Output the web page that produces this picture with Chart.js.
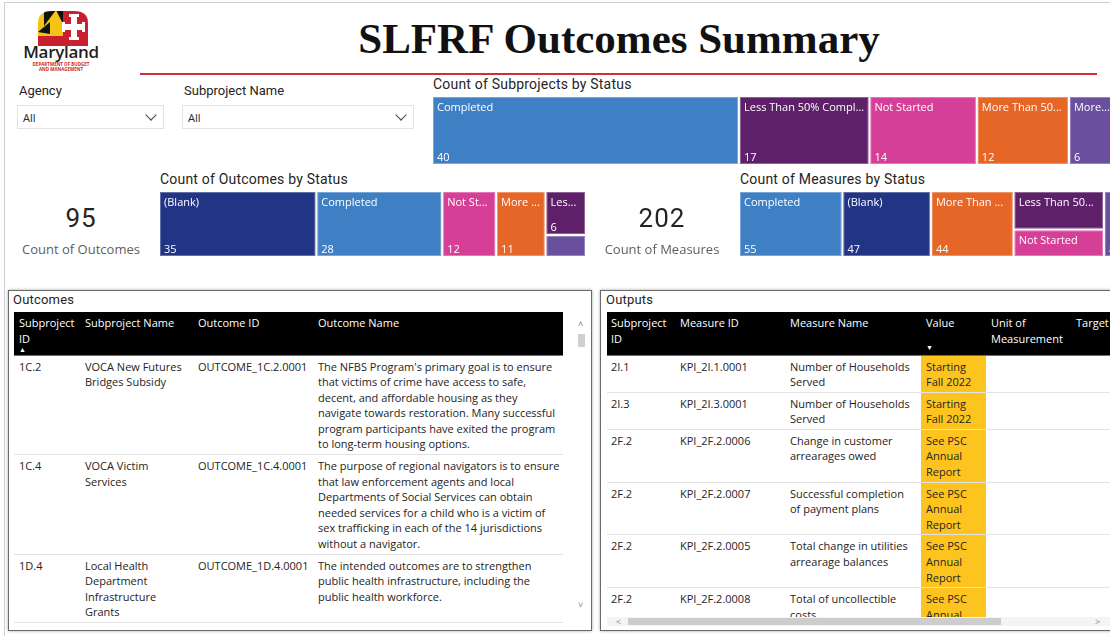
<!DOCTYPE html>
<html>
<head>
<meta charset="utf-8">
<script src="https://cdn.jsdelivr.net/npm/chart.js@4"></script>
<style>
  body { margin: 0; width: 1110px; height: 636px; overflow: hidden; background: #fff; position: relative;
         font-family: "Open Sans", sans-serif; color: #252423; }
  .abs { position: absolute; }
  .frame { left: 4px; top: 2px; width: 1200px; height: 700px; border-left: 1px solid #cfcfcf; border-top: 1px solid #cfcfcf; }
  .title { left: 0; width: 1238px; top: 14px; text-align: center; font: bold 43px "Liberation Serif", serif; color: #111; }
  .redline { left: 140px; top: 73px; width: 957px; height: 2px; background: #cf3038; }
  .lbl { font: 400 13px Roboto, sans-serif; color: #252423; }
  .dd { height: 24px; border: 1px solid #e3e3e3; box-sizing: border-box; font-size: 11px; line-height: 24px; padding-left: 5px; }
  .dd .chev { position: absolute; right: 8px; top: 5px; width: 7px; height: 7px; border-right: 1px solid #444; border-bottom: 1px solid #444; transform: rotate(45deg); }
  .ctitle { font: 400 14px Roboto, sans-serif; color: #252423; white-space: nowrap; letter-spacing: 0.2px; }
  .kpi { text-align: center; width: 160px; }
  .kpi .num { font: 400 26px Roboto, sans-serif; letter-spacing: 1px; color: #252423; }
  .kpi .cap { font-size: 13px; color: #605e5c; margin-top: 7px; }
  .panel { top: 290px; height: 341px; box-sizing: border-box; border: 1px solid #6a6a6a; box-shadow: 0 0 3px rgba(0,0,0,0.35); background: #fff; overflow: hidden; }
  .ptitle { font: 400 13px Roboto, sans-serif; color: #252423; top: 1px; letter-spacing: 0.2px; }
  .tw { top: 21px; overflow: hidden; }
  table { border-collapse: collapse; table-layout: fixed; font-size: 11px; }
  th { background: #000; color: #fff; font-weight: 400; text-align: left; vertical-align: top; height: 43px; box-sizing: border-box;
       padding: 3px 4px 0 5px; line-height: 15.6px; border-bottom: 1px solid #4b76ad; white-space: nowrap; overflow: hidden; }
  td { vertical-align: top; padding: 3px 4px 2px 5px; line-height: 15.6px; border-bottom: 1px solid #e3e3e3; white-space: nowrap; }
  td.val { background: #fdc41f; }
  .arrow { font-size: 7px; line-height: 8px; display: block; }
  .sb { color: #888; font-size: 9px; }
</style>
</head>
<body>
<div class="abs frame"></div>

<!-- logo -->
<svg class="abs" style="left:36px;top:10px" width="54" height="36" viewBox="0 0 54 36">
  <defs><clipPath id="arch"><path d="M2 36 L2 13 Q2 1 16 1 L38 1 Q52 1 52 13 L52 36 Z"/></clipPath></defs>
  <g clip-path="url(#arch)">
    <rect x="0" y="0" width="27" height="36" fill="#f5c216"/>
    <polygon points="8,0 20,0 8,16" fill="#111"/>
    <polygon points="20,0 27,0 27,14" fill="#111"/>
    <polygon points="2,22 14,12 14,24" fill="#111"/>
    <rect x="27" y="0" width="27" height="36" fill="#c8202f"/>
    <rect x="0" y="26" width="27" height="10" fill="#c8202f"/>
    <rect x="35" y="6" width="6" height="24" fill="#fff"/>
    <rect x="28" y="14" width="20" height="6" fill="#fff"/>
    <rect x="33" y="4" width="10" height="3" fill="#fff"/>
    <rect x="33" y="27" width="10" height="3" fill="#fff"/>
    <rect x="26" y="12" width="3" height="10" fill="#fff"/>
    <rect x="46" y="12" width="3" height="10" fill="#fff"/>
  </g>
</svg>
<div class="abs" style="left:20px;top:40px;width:82px;text-align:center;font:600 17px 'Open Sans',sans-serif;color:#231f20;letter-spacing:-0.3px">Maryland</div>
<div class="abs" style="left:20px;top:62px;width:82px;text-align:center;font:bold 4.5px 'Open Sans',sans-serif;color:#d2232a;line-height:5px">DEPARTMENT OF BUDGET<br>AND MANAGEMENT</div>

<div class="abs title">SLFRF Outcomes Summary</div>
<div class="abs redline"></div>

<!-- slicers -->
<div class="abs lbl" style="left:19px;top:83px">Agency</div>
<div class="abs dd" style="left:17px;top:105px;width:147px">All<span class="chev"></span></div>
<div class="abs lbl" style="left:184px;top:83px">Subproject Name</div>
<div class="abs dd" style="left:182px;top:105px;width:232px">All<span class="chev"></span></div>

<!-- treemaps -->
<div class="abs ctitle" style="left:433px;top:76px">Count of Subprojects by Status</div>
<canvas id="subprojectChart" class="abs" style="left:433px;top:97px" width="683" height="69"></canvas>

<div class="abs kpi" style="left:1px;top:203px"><div class="num">95</div><div class="cap">Count of Outcomes</div></div>
<div class="abs ctitle" style="left:160px;top:171px">Count of Outcomes by Status</div>
<canvas id="outcomeChart" class="abs" style="left:160px;top:192px" width="427" height="66"></canvas>

<div class="abs kpi" style="left:582px;top:203px"><div class="num">202</div><div class="cap">Count of Measures</div></div>
<div class="abs ctitle" style="left:740px;top:171px">Count of Measures by Status</div>
<canvas id="measureChart" class="abs" style="left:740px;top:192px" width="380" height="66"></canvas>

<!-- outcomes table -->
<div class="abs panel" style="left:8px;width:584px">
  <div class="abs ptitle" style="left:4px">Outcomes</div>
  <div class="abs tw" style="left:5px;width:550px;height:313px">
    <table style="width:549px">
      <colgroup><col style="width:66px"><col style="width:113px"><col style="width:120px"><col style="width:250px"></colgroup>
      <tr><th>Subproject<br>ID<span class="arrow">&#9650;</span></th><th>Subproject Name</th><th>Outcome ID</th><th>Outcome Name</th></tr>
      <tr><td>1C.2</td><td>VOCA New Futures<br>Bridges Subsidy</td><td>OUTCOME_1C.2.0001</td>
        <td>The NFBS Program's primary goal is to ensure<br>that victims of crime have access to safe,<br>decent, and affordable housing as they<br>navigate towards restoration. Many successful<br>program participants have exited the program<br>to long-term housing options.</td></tr>
      <tr><td>1C.4</td><td>VOCA Victim<br>Services</td><td>OUTCOME_1C.4.0001</td>
        <td>The purpose of regional navigators is to ensure<br>that law enforcement agents and local<br>Departments of Social Services can obtain<br>needed services for a child who is a victim of<br>sex trafficking in each of the 14 jurisdictions<br>without a navigator.</td></tr>
      <tr><td>1D.4</td><td>Local Health<br>Department<br>Infrastructure<br>Grants</td><td>OUTCOME_1D.4.0001</td>
        <td>The intended outcomes are to strengthen<br>public health infrastructure, including the<br>public health workforce.</td></tr>
    </table>
  </div>
  <div class="abs sb" style="left:569px;top:26px">&#708;</div>
  <div class="abs" style="left:569px;top:43px;width:7px;height:13px;background:#d0d0d0"></div>
  <div class="abs sb" style="left:569px;top:307px">&#709;</div>
</div>

<!-- outputs table -->
<div class="abs panel" style="left:600px;width:520px">
  <div class="abs ptitle" style="left:5px">Outputs</div>
  <div class="abs tw" style="left:6px;width:512px;height:305px">
    <table style="width:544px">
      <colgroup><col style="width:68px"><col style="width:110px"><col style="width:136px"><col style="width:65px"><col style="width:85px"><col style="width:80px"></colgroup>
      <tr><th style="padding-left:4px">Subproject<br>ID</th><th>Measure ID</th><th>Measure Name</th><th>Value<span class="arrow" style="margin-top:13px">&#9660;</span></th><th>Unit of<br>Measurement</th><th>Target</th></tr>
      <tr><td style="padding-left:4px">2I.1</td><td>KPI_2I.1.0001</td><td>Number of Households<br>Served</td><td class="val">Starting<br>Fall 2022</td><td></td><td></td></tr>
      <tr><td style="padding-left:4px">2I.3</td><td>KPI_2I.3.0001</td><td>Number of Households<br>Served</td><td class="val">Starting<br>Fall 2022</td><td></td><td></td></tr>
      <tr><td style="padding-left:4px">2F.2</td><td>KPI_2F.2.0006</td><td>Change in customer<br>arrearages owed</td><td class="val">See PSC<br>Annual<br>Report</td><td></td><td></td></tr>
      <tr><td style="padding-left:4px">2F.2</td><td>KPI_2F.2.0007</td><td>Successful completion<br>of payment plans</td><td class="val">See PSC<br>Annual<br>Report</td><td></td><td></td></tr>
      <tr><td style="padding-left:4px">2F.2</td><td>KPI_2F.2.0005</td><td>Total change in utilities<br>arrearage balances</td><td class="val">See PSC<br>Annual<br>Report</td><td></td><td></td></tr>
      <tr><td style="padding-left:4px">2F.2</td><td>KPI_2F.2.0008</td><td>Total of uncollectible<br>costs</td><td class="val">See PSC<br>Annual<br>Report</td><td></td><td></td></tr>
    </table>
  </div>
  <div class="abs" style="left:6px;top:326px;width:510px;height:9px;background:#f4f4f4"></div>
  <div class="abs sb" style="left:15px;top:324px">&lt;</div>
  <div class="abs" style="left:27px;top:327px;width:373px;height:7px;background:#cdcdcd"></div>
  <div class="abs sb" style="left:494px;top:324px">&gt;</div>
</div>

<script>
// status counts
const subprojectStatus = ["Completed", "Less Than 50% Completed", "Not Started", "More Than 50% Completed", "More Than 75% Completed"];
const subprojectCounts = [40, 17, 14, 12, 6];

const outcomeStatus = ["(Blank)", "Completed", "Not Started", "More Than 50% Completed", "Less Than 50% Completed", "More Than 75% Completed"];
const outcomeCounts = [35, 28, 12, 11, 6, 3];

const measureStatus = ["Completed", "(Blank)", "More Than 50% Completed", "Less Than 50% Completed", "Not Started", "More Than 75% Completed"];
const measureCounts = [55, 47, 44, 28, 20, 8];

const statusColors = {
    "Completed": "#3f80c4",
    "(Blank)": "#223484",
    "Less Than 50% Completed": "#5e2169",
    "Not Started": "#d63f97",
    "More Than 50% Completed": "#e66628",
    "More Than 75% Completed": "#6a4f9f"
};

const fitText = (ctx, text, maxW) => {
    if (ctx.measureText(text).width <= maxW) return text;
    let t = text;
    while (t.length > 1 && ctx.measureText(t + "...").width > maxW) t = t.slice(0, -1);
    return t + "...";
};

// lays the cells out column by column, each column split top to bottom by value
const treemapCells = {
    id: "treemapCells",
    afterDatasetsDraw(chart) {
        const { ctx, scales: { x, y } } = chart;
        const ds = chart.data.datasets[0];
        const labels = chart.data.labels;
        const values = ds.data;
        let start = 0;
        ctx.save();
        ctx.font = '11px "Open Sans", sans-serif';
        ds.columns.forEach((col) => {
            const colSum = col.reduce((s, i) => s + values[i], 0);
            const x0 = x.getPixelForValue(start);
            const x1 = x.getPixelForValue(start + colSum);
            let frac = 0;
            col.forEach((i) => {
                const y0 = y.getPixelForValue(frac);
                frac += values[i] / colSum;
                const y1 = y.getPixelForValue(frac);
                const w = x1 - x0 - 2, h = y1 - y0 - 2;
                ctx.fillStyle = statusColors[labels[i]];
                ctx.fillRect(x0, y0, w, h);
                ctx.strokeStyle = "rgba(255,255,255,0.3)";
                ctx.lineWidth = 1;
                ctx.strokeRect(x0 + 0.5, y0 + 0.5, w - 1, h - 1);
                ctx.fillStyle = "#fff";
                if (h >= 24 && w >= 24) {
                    ctx.textBaseline = "top";
                    ctx.fillText(fitText(ctx, labels[i], w - 8), x0 + 4, y0 + 5);
                }
                if (h >= 40 && w >= 12) {
                    ctx.textBaseline = "alphabetic";
                    ctx.fillText(String(values[i]), x0 + 4, y0 + h - 3);
                }
            });
            start += colSum;
        });
        ctx.restore();
    }
};

function makeTreemap(canvasId, labels, values, columns) {
    const total = values.reduce((a, b) => a + b, 0);
    return new Chart(document.getElementById(canvasId), {
        type: "bar",
        data: { labels: labels, datasets: [{ data: values, hidden: true, columns: columns }] },
        options: {
            responsive: false,
            animation: false,
            events: [],
            layout: { padding: 0 },
            plugins: { legend: { display: false }, tooltip: { enabled: false } },
            scales: {
                x: { type: "linear", min: 0, max: total, offset: false, display: false },
                y: { type: "linear", min: 0, max: 1, reverse: true, offset: false, display: false }
            }
        },
        plugins: [treemapCells]
    });
}

makeTreemap("subprojectChart", subprojectStatus, subprojectCounts, [[0], [1], [2], [3], [4]]);
makeTreemap("outcomeChart", outcomeStatus, outcomeCounts, [[0], [1], [2], [3], [4, 5]]);
makeTreemap("measureChart", measureStatus, measureCounts, [[0], [1], [2], [3, 4], [5]]);
</script>
</body>
</html>
